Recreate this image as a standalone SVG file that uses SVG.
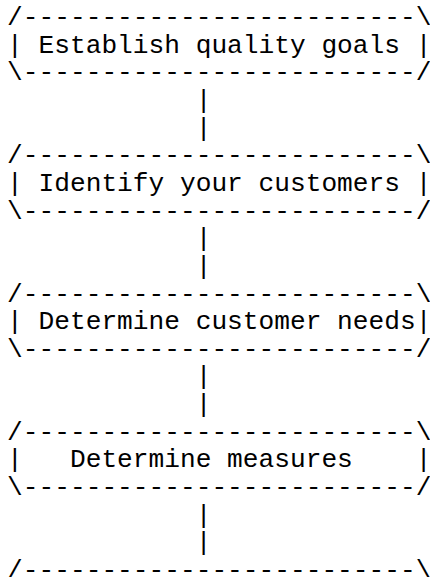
<svg xmlns="http://www.w3.org/2000/svg" width="430" height="577" viewBox="0 0 430 577">
<style>
text{font-family:"Liberation Mono","Courier New",monospace;font-size:26.2px;fill:#000;white-space:pre}
</style>
<rect width="430" height="577" fill="#fff"/>
<g id="node-establish">
<text x="7.1" y="25" xml:space="preserve">/-------------------------\</text>
<text x="7.1" y="52.65" xml:space="preserve">| Establish quality goals |</text>
<text x="7.1" y="80.3" xml:space="preserve">\-------------------------/</text>
</g>
<g id="node-identify">
<text x="7.1" y="163.25" xml:space="preserve">/-------------------------\</text>
<text x="7.1" y="190.9" xml:space="preserve">| Identify your customers |</text>
<text x="7.1" y="218.55" xml:space="preserve">\-------------------------/</text>
</g>
<g id="node-needs">
<text x="7.1" y="301.5" xml:space="preserve">/-------------------------\</text>
<text x="7.1" y="329.15" xml:space="preserve">| Determine customer needs|</text>
<text x="7.1" y="356.8" xml:space="preserve">\-------------------------/</text>
</g>
<g id="node-measures">
<text x="7.1" y="439.75" xml:space="preserve">/-------------------------\</text>
<text x="7.1" y="467.4" xml:space="preserve">|   Determine measures    |</text>
<text x="7.1" y="495.05" xml:space="preserve">\-------------------------/</text>
</g>
<g id="node-next">
<text x="7.1" y="578" xml:space="preserve">/-------------------------\</text>
</g>
<g id="connectors">
<text x="7.1" y="107.95" xml:space="preserve">            |</text>
<text x="7.1" y="135.6" xml:space="preserve">            |</text>
<text x="7.1" y="246.2" xml:space="preserve">            |</text>
<text x="7.1" y="273.85" xml:space="preserve">            |</text>
<text x="7.1" y="384.45" xml:space="preserve">            |</text>
<text x="7.1" y="412.1" xml:space="preserve">            |</text>
<text x="7.1" y="522.7" xml:space="preserve">            |</text>
<text x="7.1" y="550.35" xml:space="preserve">            |</text>
</g>
</svg>
